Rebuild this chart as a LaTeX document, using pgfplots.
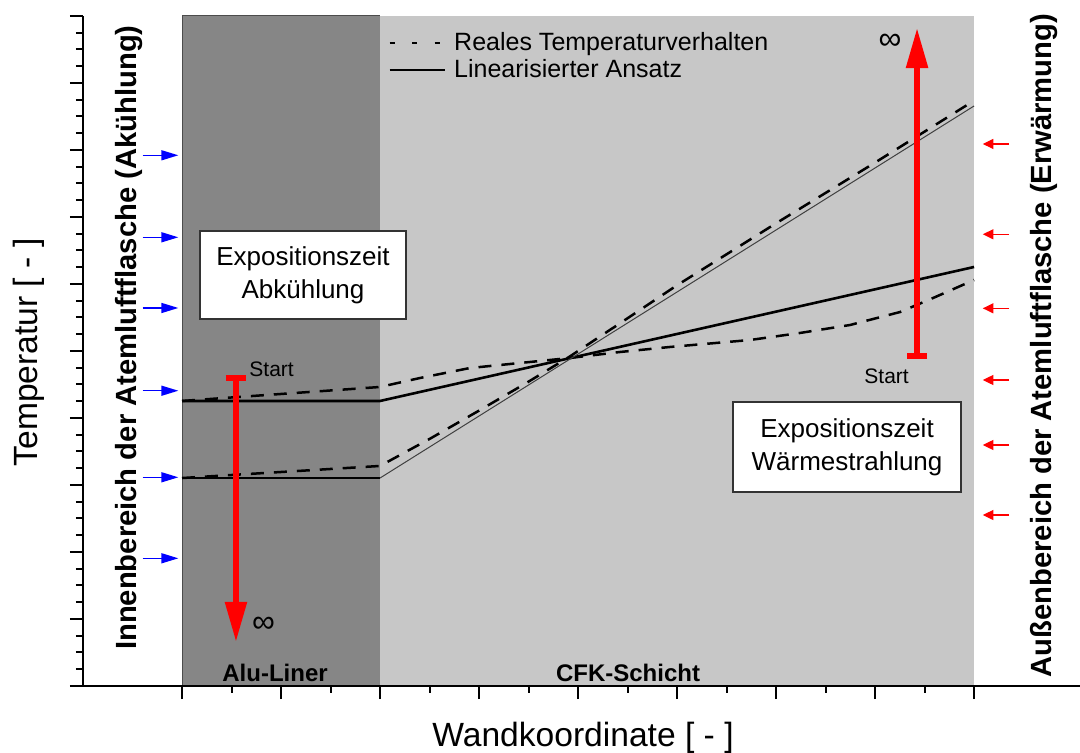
\documentclass[border=0pt]{standalone}
\usepackage{fontspec}
\setmainfont{Liberation Sans}
\usepackage{pgfplots}
\pgfplotsset{compat=1.18}
\usetikzlibrary{arrows.meta}
\definecolor{darkreg}{RGB}{134,134,134}
\definecolor{lightreg}{RGB}{199,199,199}
\begin{document}
\begin{tikzpicture}
\useasboundingbox (-41.5pt,-33.5pt) rectangle (498.5pt,343pt);
\begin{axis}[
  at={(0pt,0pt)}, anchor=south west,
  scale only axis, width=498.5pt, height=335pt,
  xmin=0, xmax=10.07, ymin=0, ymax=10,
  axis x line=bottom, axis y line=left,
  axis line style={line width=1.35pt, -},
  axis on top,
  tick align=outside,
  xtick={1,...,9}, minor xtick={1.5,2.5,...,8.5},
  ytick={0,...,10}, minor ytick={0.25,0.5,...,9.75},
  xticklabels={}, yticklabels={},
  major tick length=6.5pt, minor tick length=3.5pt,
  every tick/.style={black, line width=1pt},
  clip=false,
  xlabel={Wandkoordinate [ - ]}, ylabel={Temperatur [ - ]},
  label style={font=\fontsize{16.8}{20}\selectfont},
  xlabel style={at={(axis description cs:0.5015,-0.091)}, anchor=base},
  ylabel style={at={(axis description cs:-0.0461,0.498)}, anchor=base},
  legend image code/.code={\draw[#1] (0pt,0pt) -- (27.5pt,0pt); \path (31pt,0pt);},
  legend cell align=left,
  legend style={at={(axis cs:3.08,9.80)}, anchor=north west, draw=none, fill=none,
    font=\fontsize{12.5}{14}\selectfont, inner sep=0pt, row sep=0pt,
    nodes={inner sep=0.75pt, text height=9.5pt, text depth=2.5pt}},
]
% regions
\addplot[fill=lightreg, draw=none, forget plot] coordinates {(3,0)(3,10)(9,10)(9,0)} -- cycle;
\addplot[fill=darkreg, draw=none, forget plot] coordinates {(1,0)(1,10)(3,10)(3,0)} -- cycle;
\addplot[black!70, line width=0.5pt, forget plot] coordinates {(1,0)(1,10)(3,10)};

% real temperature behaviour (dashed)
\addplot[black, line width=1.25pt, dash pattern=on 6.5pt off 5pt, forget plot] coordinates {
(1,4.254)(3.0,4.463)(3.404,4.597)(3.909,4.746)(4.414,4.821)(4.919,4.896)(5.424,4.985)
(5.929,5.060)(6.737,5.164)(7.242,5.269)(7.747,5.388)(8.253,5.582)(8.586,5.791)(9,6.060)};
\addplot[black, line width=1.25pt, dash pattern=on 6.5pt off 5pt, forget plot] coordinates {
(1,3.104)(3,3.284)(3.5,3.687)(4,4.110)(4.5,4.542)(4.92,4.921)(5.5,5.488)(6,5.981)
(6.5,6.443)(7,6.906)(7.5,7.359)(8,7.812)(8.5,8.274)(9,8.737)};

% linearised approach (solid)
\addplot[black, line width=1.3pt, forget plot] coordinates {(1,4.254)(3,4.254)(9,6.254)};
\addplot[black, line width=1.3pt, forget plot] coordinates {(1,3.104)(3,3.104)};
\addplot[black!75, line width=0.5pt, forget plot] coordinates {(3,3.104)(9,8.657)};

% legend
\addlegendimage{black, line width=1pt, dash pattern=on 2.5pt off 8.75pt}
\addlegendentry{Reales Temperaturverhalten}
\addlegendimage{black, line width=1.2pt}
\addlegendentry{Linearisierter Ansatz}

% big red arrows
\addplot[red, line width=2.8pt, arrows={Bar[width=10pt]-Triangle[length=20pt,width=10.5pt]}, forget plot]
  coordinates {(1.545,4.642)(1.545,0.66)};
\addplot[red, line width=2.8pt, arrows={Bar[width=10pt]-Triangle[length=20pt,width=10.5pt]}, forget plot]
  coordinates {(8.424,4.881)(8.424,9.82)};

% blue arrows (inside)
\addplot[blue, line width=0.75pt, arrows={-Triangle[length=8.5pt,width=5pt]}, forget plot] coordinates {(0.602,7.921)(0.963,7.921)};
\addplot[blue, line width=0.75pt, arrows={-Triangle[length=8.5pt,width=5pt]}, forget plot] coordinates {(0.602,6.697)(0.963,6.697)};
\addplot[blue, line width=0.75pt, arrows={-Triangle[length=8.5pt,width=5pt]}, forget plot] coordinates {(0.602,5.642)(0.963,5.642)};
\addplot[blue, line width=0.75pt, arrows={-Triangle[length=8.5pt,width=5pt]}, forget plot] coordinates {(0.602,4.407)(0.963,4.407)};
\addplot[blue, line width=0.75pt, arrows={-Triangle[length=8.5pt,width=5pt]}, forget plot] coordinates {(0.602,3.115)(0.963,3.115)};
\addplot[blue, line width=0.75pt, arrows={-Triangle[length=8.5pt,width=5pt]}, forget plot] coordinates {(0.602,1.906)(0.963,1.906)};

% red small arrows (outside)
\addplot[red, line width=0.6pt, arrows={-Triangle[length=5.3pt,width=5pt]}, forget plot] coordinates {(9.354,8.090)(9.088,8.090)};
\addplot[red, line width=0.6pt, arrows={-Triangle[length=5.3pt,width=5pt]}, forget plot] coordinates {(9.354,6.742)(9.088,6.742)};
\addplot[red, line width=0.6pt, arrows={-Triangle[length=5.3pt,width=5pt]}, forget plot] coordinates {(9.354,5.637)(9.088,5.637)};
\addplot[red, line width=0.6pt, arrows={-Triangle[length=5.3pt,width=5pt]}, forget plot] coordinates {(9.354,4.567)(9.088,4.567)};
\addplot[red, line width=0.6pt, arrows={-Triangle[length=5.3pt,width=5pt]}, forget plot] coordinates {(9.354,3.597)(9.088,3.597)};
\addplot[red, line width=0.6pt, arrows={-Triangle[length=5.3pt,width=5pt]}, forget plot] coordinates {(9.354,2.552)(9.088,2.552)};

% text boxes
\node[draw=black!80, line width=0.6pt, fill=white, align=center, minimum width=103pt, minimum height=44pt,
  inner sep=0pt, font=\fontsize{13}{16.5}\selectfont] at (axis cs:2.222,6.134) {Expositionszeit\\Abkühlung};
\node[draw=black!80, line width=0.6pt, fill=white, align=center, minimum width=114pt, minimum height=45pt,
  inner sep=0pt, font=\fontsize{13}{16.5}\selectfont] at (axis cs:7.717,3.567) {Expositionszeit\\Wärmestrahlung};

% labels
\node[anchor=base west, inner sep=0pt, font=\fontsize{10.5}{12}\selectfont] at (axis cs:1.677,4.612) {Start};
\node[anchor=base west, inner sep=0pt, font=\fontsize{10.5}{12}\selectfont] at (axis cs:7.889,4.522) {Start};
\node[inner sep=0pt, font=\fontsize{16}{18}\selectfont] at (axis cs:1.823,0.91) {∞};
\node[inner sep=0pt, font=\fontsize{16}{18}\selectfont] at (axis cs:8.152,9.619) {∞};
\node[anchor=base, inner sep=0pt, font=\bfseries\fontsize{12}{14}\selectfont] at (axis cs:1.94,0.06) {Alu-Liner};
\node[anchor=base, inner sep=0pt, font=\bfseries\fontsize{12}{14}\selectfont] at (axis cs:5.505,0.06) {CFK-Schicht};
\node[anchor=base, rotate=90, inner sep=0pt, font=\bfseries\fontsize{14.6}{16}\selectfont] at (axis cs:0.542,5.2)
  {Innenbereich der Atemluftflasche (Akühlung)};
\node[anchor=base, rotate=90, inner sep=0pt, font=\bfseries\fontsize{14.6}{16}\selectfont] at (axis cs:9.778,5.08)
  {Außenbereich der Atemluftflasche (Erwärmung)};
\end{axis}
\end{tikzpicture}
\end{document}
